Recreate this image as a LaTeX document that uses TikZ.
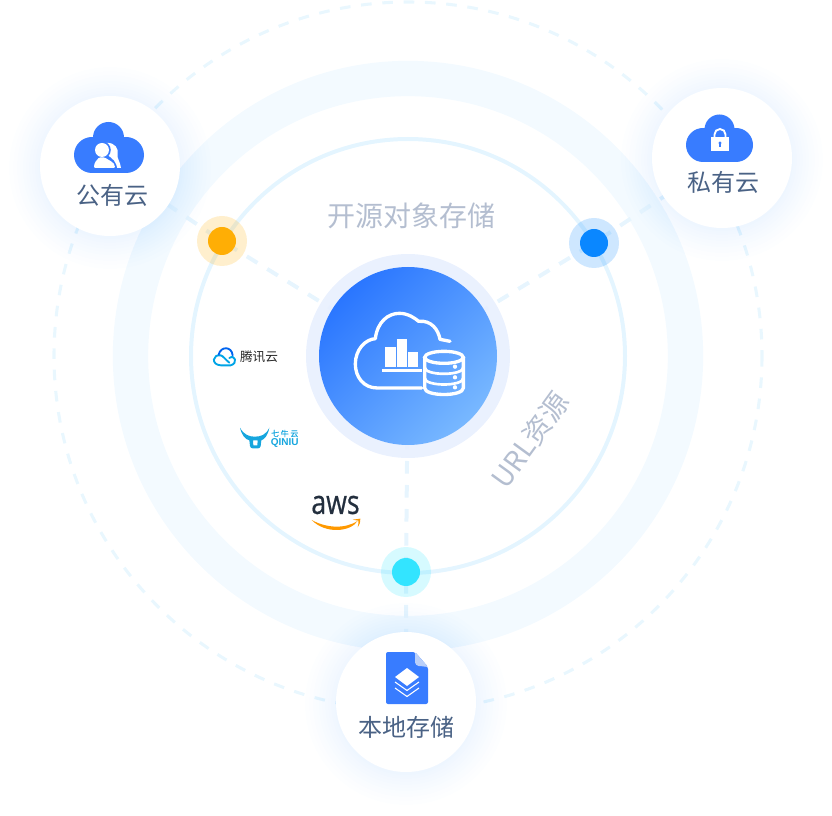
\documentclass[tikz,border=0pt]{standalone}
\usepackage{fontspec}
\setmainfont{Noto Sans CJK SC}
\newfontfamily\awsfont[FakeBold=0.7]{Open Sans}
\newfontfamily\qnfont{Liberation Sans}
\usetikzlibrary{backgrounds}
\definecolor{ringthick}{HTML}{F3FAFF}
\definecolor{ringthin}{HTML}{E4F5FF}
\definecolor{dashc}{HTML}{E7F5FE}
\definecolor{outerc}{HTML}{E9F7FE}
\definecolor{iconblue}{HTML}{387CFF}
\definecolor{labelc}{HTML}{4A6285}
\definecolor{greyc}{HTML}{B4BED0}
\definecolor{qiniu}{HTML}{16A6DE}
\definecolor{dotorange}{HTML}{FFAE05}
\definecolor{dotblue}{HTML}{0A87FF}
\definecolor{dotcyan}{HTML}{33E4FF}
\definecolor{glowc}{HTML}{3F94FF}
\definecolor{hubhalo}{HTML}{E8EFFE}
\definecolor{hubA}{HTML}{2A76FF}
\definecolor{hubB}{HTML}{78B8FF}
\definecolor{foldc}{HTML}{B9CFF9}
\definecolor{txcyan}{HTML}{00A4E6}
\definecolor{txblue}{HTML}{0064F0}
\definecolor{awsdark}{HTML}{232F3E}
\definecolor{awsorange}{HTML}{FF9900}
\tikzset{
  px/.style={font=\fontsize{#1}{#1}\selectfont},
  sitenode/.style={circle,fill=white,inner sep=0pt,minimum size=105pt},
  sitelabel/.style={inner sep=0pt,text=labelc,font=\fontsize{18}{18}\selectfont},
  grouplabel/.style={inner sep=0pt,text=greyc,font=\fontsize{21}{21}\selectfont},
  dotcore/.style={circle,fill=#1,inner sep=0pt,minimum size=21pt},
  dothalo/.style={circle,fill=#1,fill opacity=.2,inner sep=0pt,minimum size=37.5pt},
  link/.style={draw=dashc,line width=3pt,dash pattern=on 9.4pt off 8.6pt,dash phase=11.25pt},
  iconline/.style={draw=white,line width=2.5pt,line cap=round,line join=round},
}
\begin{document}
\begin{tikzpicture}[x=0.75pt,y=-0.75pt]
\useasboundingbox (0,0) rectangle (832,816);
% main nodes
\node[circle,inner sep=0pt,minimum size=153pt,fill=hubhalo,fill opacity=.9] (hubhaloshape) at (408,356) {};
\node[circle,inner sep=0pt,minimum size=133.5pt,left color=hubA,right color=hubB,shading angle=45] (hub) at (408,356) {};
\node[sitenode] (pub) at (110,166) {};
\node[sitenode] (pri) at (722,158) {};
\node[sitenode] (loc) at (406,702) {};
\node[dothalo=dotorange] (dotLh) at (222,241) {};
\node[dothalo=dotblue] (dotRh) at (594,243) {};
\node[dothalo=dotcyan] (dotBh) at (406,572) {};
\node[dotcore=dotorange] (dotL) at (222,241) {};
\node[dotcore=dotblue] (dotR) at (594,243) {};
\node[dotcore=dotcyan] (dotB) at (406,572) {};
\begin{scope}[on background layer]
  \draw[outerc,line width=2.3pt,dash pattern=on 8pt off 8pt] (408,356) circle[radius=354];
  \draw[ringthick,line width=26.5pt] (408,356) circle[radius=277.5];
  \draw[ringthin,line width=3pt] (408,356) circle[radius=217];
  \draw[link] (hub.center) -- (dotL.center) -- (pub.center);
  \draw[link] (hub.center) -- (dotR.center) -- (pri.center);
  \draw[link] (hub.center) -- (dotB.center) -- (loc.center);
  \foreach \x/\y in {110/166,722/158,406/702}{
    \foreach \r in {71,73,75,78,81,84,87,90,93,97,101}{
      \fill[glowc,opacity=.008] (\x,\y+2) circle[radius=\r];
    }
  }
\end{scope}
% hub icon
\begin{scope}[shift={(300,250)},scale=1/3]
  \draw[iconline] (365,414) -- (232,414)
     .. controls (190,414) and (166,380) .. (166,342)
     .. controls (166,300) and (195,268) .. (226,266)
     .. controls (232,215) and (265,190) .. (298,190)
     .. controls (325,190) and (345,205) .. (356,214)
     .. controls (395,210) and (415,240) .. (420,268) -- (450,274);
  \fill[white] (255,292) rectangle (287,350);
  \fill[white] (290,268) rectangle (320,350);
  \fill[white] (325,307) rectangle (353,350);
  \fill[white] (245,357) rectangle (365,365);
  \draw[white,line width=2.5pt] (432,322) ellipse[x radius=58,y radius=18];
  \draw[white,line width=2.5pt] (374,322) -- (374,414) .. controls (374,440) and (490,440) .. (490,414) -- (490,322);
  \draw[white,line width=2pt] (374,352) .. controls (374,378) and (490,378) .. (490,352);
  \draw[white,line width=2pt] (374,384) .. controls (374,410) and (490,410) .. (490,384);
  \fill[white] (465,350) circle[radius=6.5] (465,382) circle[radius=6.5] (465,412) circle[radius=6.5];
\end{scope}
% public cloud icon
\fill[iconblue] (108.5,137.5) circle[radius=15.5] (92,155) circle[radius=18] (126,155) circle[radius=18];
\fill[iconblue] (92,150) rectangle (126,173);
\fill[white] (106,143) .. controls (115,142) and (119,149) .. (117.5,154) .. controls (116.5,158) and (120.5,162) .. (121,168) -- (112,168) -- (106,155) -- cycle;
\fill[iconblue] (102,150) circle[radius=8.8];
\fill[iconblue] (92,170) -- (92,160) -- (100,155) -- (107,155) .. controls (112,158) and (117,162) .. (117.2,170) -- cycle;
\fill[white] (102,150) circle[radius=7];
\fill[white,rounded corners=.8pt] (94,168) .. controls (94,162.5) and (97,160) .. (99,157.5) -- (105,157.5) .. controls (108,160) and (115,162) .. (115,168) -- cycle;
% private cloud icon
\fill[iconblue] (719.5,129.5) circle[radius=15] (703,145) circle[radius=17] (736,145) circle[radius=17];
\fill[iconblue] (703,140) rectangle (736,162);
\fill[white] (711,137) rectangle (729,151);
\draw[white,line width=1.4pt] (714.5,138) -- (714.5,134.5) arc[start angle=180,end angle=360,radius=5.5] -- (725.5,138);
\fill[iconblue] (720,143) circle[radius=1.7];
\fill[iconblue] (719.4,143) rectangle (720.6,147.5);
% file icon
\fill[iconblue,rounded corners=1.5pt] (386,652) -- (415,652) -- (428,667) -- (428,704) -- (386,704) -- cycle;
\fill[foldc,rounded corners=1pt] (415,652) -- (428,667) -- (420,666) .. controls (417,666) and (415,664) .. (415,661) -- cycle;
\fill[white] (407,668) -- (419,677) -- (407,686) -- (395,677) -- cycle;
\draw[white,line width=.8pt] (395,682) -- (407,690.5) -- (419,682);
\draw[white,line width=.8pt] (395,688) -- (407,696.5) -- (419,688);
% labels
\node[sitelabel] (publabel) at (112,195) {公有云};
\node[sitelabel] (prilabel) at (723,182) {私有云};
\node[sitelabel] (loclabel) at (406,727) {本地存储};
\node[grouplabel] (oss) at (411,216) {开源对象存储};
\node[grouplabel,rotate=54] (url) at (530,440) {URL资源};
% tencent logo
\begin{scope}[shift={(190,330)},scale=1/3]
  \draw[txcyan,line width=1.4pt,line cap=round] (118,84) .. controls (135,72) and (145,100) .. (122,106) -- (92,106) .. controls (62,104) and (68,72) .. (92,76) .. controls (100,78) and (105,88) .. (118,98);
  \draw[txblue,line width=1.4pt,line cap=round] (86,74) .. controls (92,48) and (125,48) .. (128,76);
\end{scope}
\node[inner sep=0pt,text=black!85,px=9.5] (tx) at (259,357) {腾讯云};
% qiniu logo
\begin{scope}[shift={(190,330)},scale=1/3]
  \fill[qiniu,even odd rule] (150,293) .. controls (162,315) and (178,320) .. (194,320) .. controls (212,320) and (228,315) .. (238,293) .. controls (234,315) and (224,328) .. (214,331) -- (212,348) .. controls (211,353) and (208,355) .. (204,355) -- (188,355) .. controls (184,355) and (181,353) .. (180,348) -- (178,331) .. controls (165,328) and (155,315) .. (150,293) -- cycle (189,331) -- (203,331) -- (202,346) -- (190,346) -- cycle;
\end{scope}
\node[inner sep=0pt,text=qiniu,font=\fontsize{6}{6}\selectfont\addfontfeature{FakeBold=0.5,LetterSpace=20}] (qn) at (284.8,433.5) {七牛云};
\node[inner sep=0pt,text=qiniu,font=\qnfont\bfseries\fontsize{7.5}{7.5}\selectfont] (qe) at (284.8,443) {QINIU};
% aws logo
\node[inner sep=0pt,text=awsdark,font=\awsfont\fontsize{20}{20}\selectfont,yscale=1.25,transform shape] (aws) at (335.5,505) {aws};
\begin{scope}[shift={(190,330)},scale=1/3]
  \fill[awsorange] (365,570) .. controls (410,595) and (465,597) .. (503,573) .. controls (480,607) and (405,612) .. (365,570) -- cycle;
  \fill[awsorange] (488,569) -- (511,566) .. controls (512,575) and (509,585) .. (503,592) .. controls (505,585) and (506,578) .. (505,572) -- cycle;
\end{scope}
\end{tikzpicture}
\end{document}
